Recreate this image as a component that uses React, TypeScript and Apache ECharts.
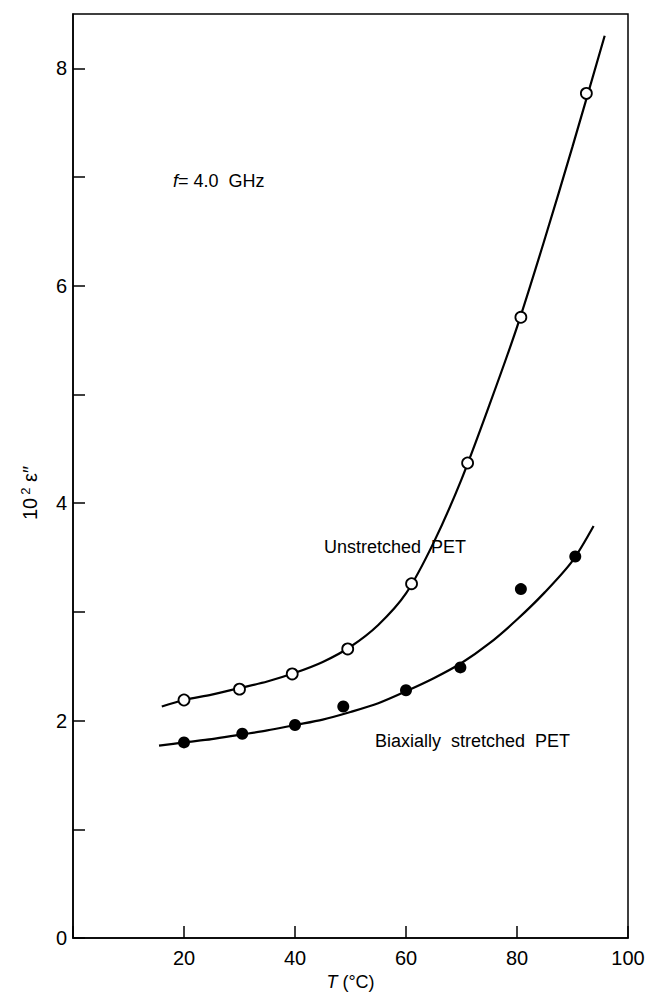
import React, { useEffect, useRef } from "react";
import * as echarts from "echarts";

// Measured points (T in °C, 10^2 ε'')
const unstretchedPts: [number, number][] = [
  [20, 2.19], [30, 2.29], [39.5, 2.43], [49.5, 2.66],
  [61, 3.26], [71.1, 4.37], [80.7, 5.71], [92.5, 7.77],
];
const biaxialPts: [number, number][] = [
  [20, 1.8], [30.5, 1.88], [40, 1.96], [48.7, 2.13],
  [60, 2.28], [69.8, 2.49], [80.7, 3.21], [90.5, 3.51],
];
// Fitted curves
const unstretchedCurve: [number, number][] = [
  [16, 2.13], [20, 2.19], [25, 2.24], [30, 2.3], [35, 2.36], [40, 2.44],
  [45, 2.54], [50, 2.68], [55, 2.88], [60, 3.17], [65, 3.64], [70, 4.22],
  [75, 4.9], [80, 5.62], [85, 6.43], [90, 7.28], [95.8, 8.3],
];
const biaxialCurve: [number, number][] = [
  [15.5, 1.77], [20, 1.8], [25, 1.83], [30, 1.87], [35, 1.91], [40, 1.96],
  [45, 2.01], [50, 2.08], [55, 2.16], [60, 2.27], [65, 2.39], [70, 2.53],
  [75, 2.71], [80, 2.93], [85, 3.18], [90, 3.47], [93.8, 3.79],
];
const xTicks = [0, 20, 40, 60, 80, 100];
const yLabelled = [0, 2, 4, 6, 8];

const FONT = "Liberation Sans";

export default function App() {
  const ref = useRef<HTMLDivElement>(null);
  useEffect(() => {
    document.body.style.margin = "0";
    const chart = echarts.init(ref.current!, undefined, { renderer: "svg" });
    const txt = { color: "#000", fontFamily: FONT };
    chart.setOption({
      animation: false,
      backgroundColor: "#fff",
      grid: {
        left: 73, right: 22, top: 14, bottom: 48,
        show: true, borderColor: "#000", borderWidth: 1.5,
      },
      xAxis: {
        type: "value", min: 0, max: 100, interval: 20,
        axisLine: { show: true, lineStyle: { color: "#000", width: 1.5 } },
        axisTick: { inside: true, length: 12, lineStyle: { color: "#000", width: 1.5 } },
        splitLine: { show: false },
        axisLabel: {
          ...txt, fontSize: 20, margin: 10,
          formatter: (v: number) => (v === 0 || !xTicks.includes(v) ? "" : String(v)),
        },
        name: "{i|T} {n|(°C)}",
        nameLocation: "middle",
        nameGap: 33,
        nameTextStyle: {
          ...txt, fontSize: 18,
          rich: {
            i: { ...txt, fontStyle: "italic", fontSize: 18 },
            n: { ...txt, fontSize: 18 },
          },
        },
      },
      yAxis: {
        type: "value", min: 0, max: 8.5, interval: 1,
        axisLine: { show: true, lineStyle: { color: "#000", width: 1.5 } },
        axisTick: { inside: true, length: 12, lineStyle: { color: "#000", width: 1.5 } },
        splitLine: { show: false },
        axisLabel: {
          ...txt, fontSize: 20, margin: 6,
          showMaxLabel: false,
          formatter: (v: number) => (yLabelled.includes(v) ? String(v) : ""),
        },
      },
      graphic: [
        {
          type: "text", x: 30, y: 493, rotation: Math.PI / 2,
          style: {
            text: "{n|10}{s|2}{n| ε″}",
            align: "center", verticalAlign: "middle",
            fill: "#000", fontFamily: FONT, fontSize: 20,
            rich: {
              n: { fontFamily: FONT, fontSize: 20, fill: "#000" },
              s: { fontFamily: FONT, fontSize: 13, fill: "#000", verticalAlign: "top", padding: [0, 0, 10, 3] },
            },
          },
        },
        {
          type: "text", left: 173, top: 172,
          style: {
            text: "{i|f}{n|= 4.0  GHz}",
            fill: "#000", fontFamily: FONT, fontSize: 18,
            rich: {
              i: { fontStyle: "italic", fontFamily: FONT, fontSize: 18, fill: "#000" },
              n: { fontFamily: FONT, fontSize: 18, fill: "#000" },
            },
          },
        },
        {
          type: "text", left: 324, top: 538,
          style: { text: "Unstretched  PET", fill: "#000", fontFamily: FONT, fontSize: 18 },
        },
        {
          type: "text", left: 375, top: 732,
          style: { text: "Biaxially  stretched  PET", fill: "#000", fontFamily: FONT, fontSize: 18 },
        },
      ],
      series: [
        {
          type: "line", data: unstretchedCurve, smooth: 0.3,
          showSymbol: false, lineStyle: { color: "#000", width: 2.2 }, z: 2,
        },
        {
          type: "line", data: biaxialCurve, smooth: 0.3,
          showSymbol: false, lineStyle: { color: "#000", width: 2.2 }, z: 2,
        },
        {
          type: "scatter", data: unstretchedPts, symbol: "circle", symbolSize: 11,
          itemStyle: { color: "#fff", borderColor: "#000", borderWidth: 1.8, opacity: 1 }, z: 3,
        },
        {
          type: "scatter", data: biaxialPts, symbol: "circle", symbolSize: 12,
          itemStyle: { color: "#000", opacity: 1 }, z: 3,
        },
      ],
    });
    return () => chart.dispose();
  }, []);
  return <div ref={ref} style={{ position: "fixed", left: 0, top: 0, width: 650, height: 996 }} />;
}
